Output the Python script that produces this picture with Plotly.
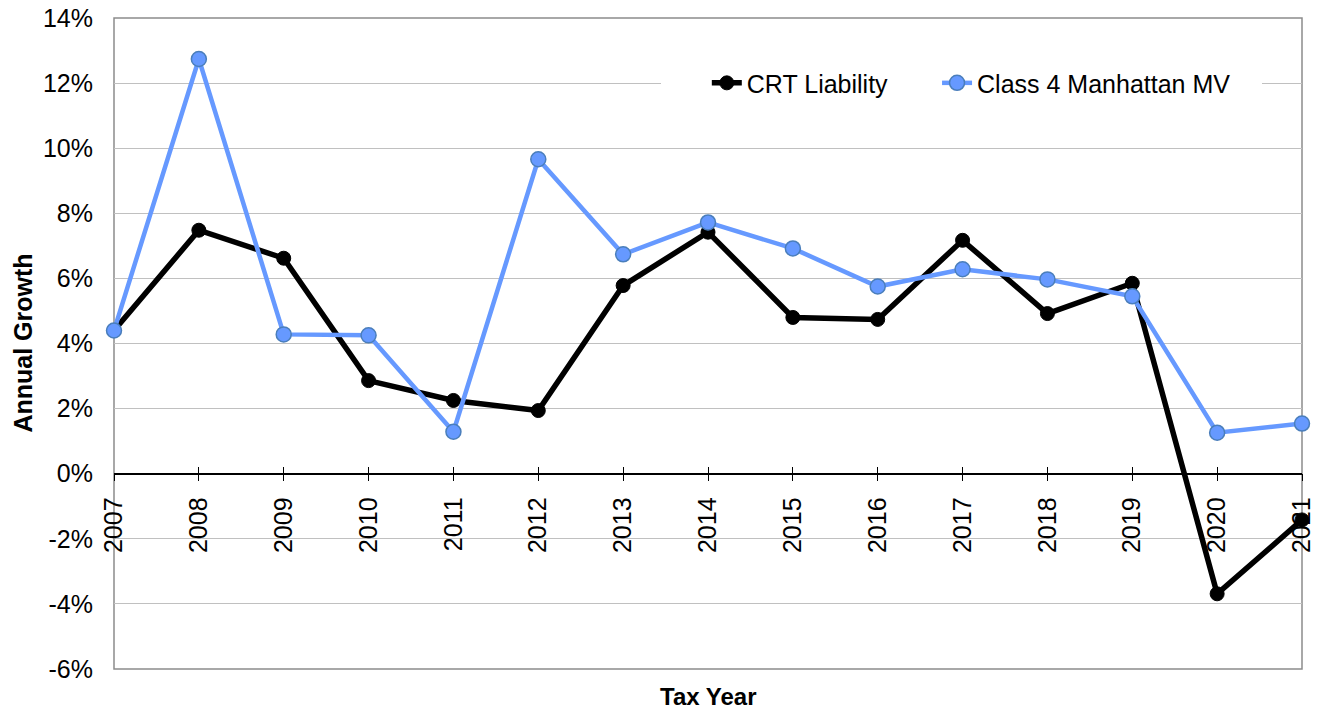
import plotly.graph_objects as go

years = [2007, 2008, 2009, 2010, 2011, 2012, 2013, 2014, 2015, 2016, 2017, 2018, 2019, 2020, 2021]
crt_liability = [4.40, 7.48, 6.62, 2.86, 2.25, 1.94, 5.78, 7.42, 4.80, 4.74, 7.17, 4.92, 5.85, -3.69, -1.42]
class4_manhattan_mv = [4.40, 12.74, 4.28, 4.25, 1.29, 9.66, 6.74, 7.72, 6.92, 5.75, 6.28, 5.97, 5.45, 1.26, 1.54]
y_ticks = [-6, -4, -2, 0, 2, 4, 6, 8, 10, 12, 14]
y_tick_labels = ["-6%", "-4%", "-2%", "0%", "2%", "4%", "6%", "8%", "10%", "12%", "14%"]

FONT = "Liberation Sans, Arial, sans-serif"
FS = 25

fig = go.Figure()
fig.add_trace(go.Scatter(
    x=years, y=crt_liability, name="CRT Liability", mode="lines+markers",
    line=dict(color="#000000", width=5.5),
    marker=dict(size=14, color="#000000", line=dict(color="#000000", width=1)),
    cliponaxis=False, legend="legend",
))
fig.add_trace(go.Scatter(
    x=years, y=class4_manhattan_mv, name="Class 4 Manhattan MV", mode="lines+markers",
    line=dict(color="#6699FF", width=4.5),
    marker=dict(size=15, color="#6699FF", line=dict(color="#4A7EBB", width=1.5)),
    cliponaxis=False, legend="legend2",
))
# empty helper trace so the overlaid tick axis (inner half of crossing ticks) is drawn
fig.add_trace(go.Scatter(x=[], y=[], xaxis="x2", yaxis="y", showlegend=False,
                         hoverinfo="skip"))

legend_common = dict(
    orientation="h", xanchor="left", y=0.9, yanchor="middle",
    bgcolor="rgba(0,0,0,0)", font=dict(size=FS, family=FONT), itemwidth=30,
)

fig.update_layout(
    width=1317, height=710, autosize=False,
    margin=dict(l=114, r=15, t=18, b=41, autoexpand=False),
    paper_bgcolor="white", plot_bgcolor="white",
    font=dict(family=FONT, size=FS, color="#000000"),
    showlegend=True,
    legend=dict(x=0.499, **legend_common),
    legend2=dict(x=0.6928, **legend_common),
    xaxis=dict(
        range=[2007, 2021], tickmode="array", tickvals=years, ticktext=[str(y) for y in years],
        tickangle=-90, anchor="free", position=0.3, automargin=False,
        showline=True, linecolor="#000000", linewidth=1.5,
        ticks="outside", ticklen=7, tickcolor="#000000", tickwidth=1.3,
        ticklabelstandoff=6, ticklabeloverflow="allow",
        showgrid=False, zeroline=False,
        tickfont=dict(size=FS),
    ),
    xaxis2=dict(
        range=[2007, 2021], overlaying="x", anchor="free", position=0.3, automargin=False,
        tickmode="array", tickvals=years, showticklabels=False,
        ticks="inside", ticklen=7, tickcolor="#000000", tickwidth=1.3,
        showline=False, showgrid=False, zeroline=False,
    ),
    yaxis=dict(
        range=[-6, 14], tickmode="array", tickvals=y_ticks, ticktext=y_tick_labels,
        automargin=False, ticklabeloverflow="allow",
        showgrid=True, gridcolor="#C0C0C0", gridwidth=1.3,
        zeroline=False, showline=False, ticks="",
        ticklabelstandoff=20, tickfont=dict(size=FS),
    ),
    shapes=[
        dict(type="rect", xref="paper", yref="paper", x0=0, x1=1, y0=0, y1=1,
             line=dict(color="#8C8C8C", width=1.5), layer="below"),
        # white legend background box
        dict(type="rect", xref="paper", yref="paper",
             x0=(661 - 114) / 1188, x1=(1262 - 114) / 1188,
             y0=(669 - 100) / 651, y1=(669 - 66) / 651,
             fillcolor="white", line=dict(width=0), layer="above"),
    ],
    annotations=[
        dict(text="<b>Annual Growth</b>", xref="paper", yref="paper", x=-0.0774, y=0.5,
             xanchor="center", yanchor="middle", textangle=-90, showarrow=False,
             font=dict(size=FS, family=FONT)),
        dict(text="<b>Tax Year</b>", xref="paper", yref="paper", x=0.5, y=-0.043,
             xanchor="center", yanchor="middle", showarrow=False,
             font=dict(size=24, family=FONT)),
    ],
)

fig.write_html("out.html",
               config={"displayModeBar": False},
               post_script="document.body.style.margin='0';document.body.style.overflow='hidden';")
